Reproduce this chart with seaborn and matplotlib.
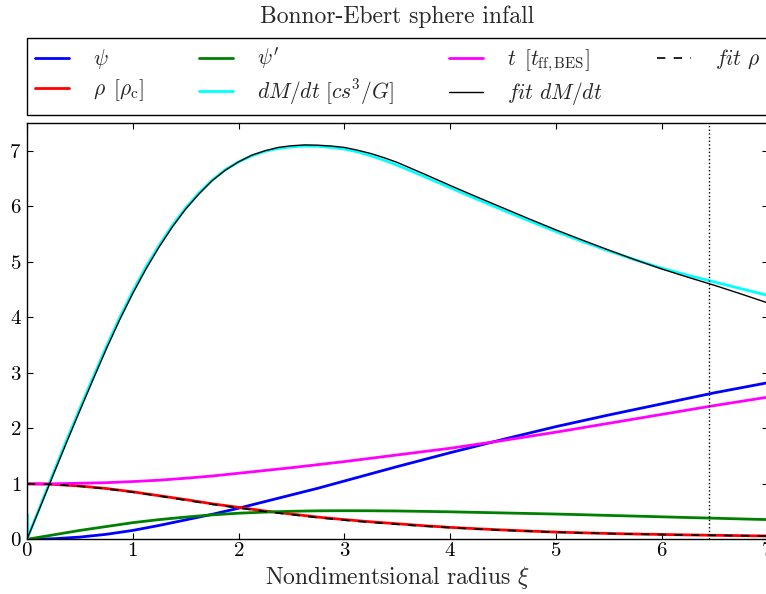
import matplotlib
matplotlib.use("Agg")
import matplotlib.pyplot as plt
import seaborn as sns

# ---- data ----
xi = [0, 0.25, 0.5, 0.75, 1, 1.25, 1.5, 1.75, 2, 2.25, 2.5, 2.75, 3, 3.25, 3.5,
      3.75, 4, 4.25, 4.5, 4.75, 5, 5.25, 5.5, 5.75, 6, 6.25, 6.5, 6.75, 7]
psi = [0, 0.01, 0.04, 0.09, 0.16, 0.25, 0.35, 0.45, 0.56, 0.68, 0.80, 0.92, 1.05, 1.18, 1.31,
       1.435, 1.56, 1.68, 1.80, 1.915, 2.03, 2.135, 2.24, 2.34, 2.44, 2.54, 2.64, 2.73, 2.82]
rho = [1.0, 0.99, 0.96, 0.915, 0.855, 0.785, 0.715, 0.64, 0.575, 0.51, 0.455, 0.40, 0.355, 0.315, 0.28,
       0.245, 0.215, 0.19, 0.168, 0.148, 0.13, 0.117, 0.105, 0.095, 0.087, 0.079, 0.072, 0.066, 0.06]
dpsi = [0, 0.08, 0.16, 0.23, 0.30, 0.355, 0.40, 0.44, 0.47, 0.49, 0.505, 0.513, 0.515, 0.514, 0.51,
        0.503, 0.495, 0.485, 0.475, 0.465, 0.455, 0.443, 0.43, 0.418, 0.405, 0.392, 0.38, 0.367, 0.355]
t_ff = [1.0, 1.0, 1.01, 1.02, 1.04, 1.065, 1.10, 1.14, 1.19, 1.24, 1.29, 1.345, 1.40, 1.46, 1.52,
        1.58, 1.64, 1.71, 1.78, 1.855, 1.93, 2.01, 2.09, 2.17, 2.25, 2.33, 2.41, 2.485, 2.56]
fit_rho = [1.0, 0.99, 0.955, 0.91, 0.85, 0.78, 0.705, 0.63, 0.565, 0.50, 0.445, 0.39, 0.345, 0.305, 0.27,
           0.238, 0.21, 0.185, 0.163, 0.145, 0.128, 0.115, 0.103, 0.093, 0.085, 0.077, 0.071, 0.065, 0.059]

# accretion-rate curves are read on a finer grid where they bend sharply
xi_dm = [0, 0.125, 0.25, 0.375, 0.5, 0.625, 0.75, 0.875, 1.0, 1.125, 1.25, 1.375, 1.5, 1.625,
         1.75, 1.875, 2.0, 2.125, 2.25, 2.375, 2.5, 2.625, 2.75, 2.875, 3.0, 3.125, 3.25, 3.375,
         3.5, 3.75, 4, 4.25, 4.5, 4.75, 5, 5.25, 5.5, 5.75, 6, 6.25, 6.5, 6.75, 7]
dmdt = [0, 0.60, 1.20, 1.79, 2.36, 2.92, 3.47, 3.99, 4.47, 4.91, 5.30, 5.66, 5.97, 6.24,
        6.47, 6.66, 6.80, 6.91, 6.99, 7.04, 7.07, 7.085, 7.08, 7.06, 7.03, 6.98, 6.91, 6.83,
        6.74, 6.54, 6.335, 6.13, 5.93, 5.735, 5.545, 5.365, 5.195, 5.035, 4.885, 4.755, 4.635, 4.515, 4.395]
fit_dmdt = [0, 0.58, 1.17, 1.75, 2.32, 2.88, 3.43, 3.95, 4.43, 4.87, 5.27, 5.63, 5.95, 6.22,
            6.46, 6.65, 6.80, 6.92, 7.00, 7.06, 7.09, 7.105, 7.10, 7.085, 7.06, 7.01, 6.95, 6.875,
            6.79, 6.585, 6.375, 6.17, 5.97, 5.77, 5.575, 5.39, 5.21, 5.035, 4.87, 4.72, 4.575, 4.42, 4.26]
# the computed accretion rate has a spurious first sample at the centre
dmdt_x0 = [0, 0]
dmdt_y0 = [0, 0.45]
xi_crit = 6.45

labels = [r"$\psi$", r"$\rho\enspace[\rho_{\rm c}]$", r"$\psi'$", r"$dM/dt\ [cs^3/G]$",
          r"$t\enspace[t_{\rm ff,BES}]$", r"$fit\ dM/dt$", r"$fit\ \rho$"]
title = "Bonnor-Ebert sphere infall"
xlabel = r"Nondimentsional radius $\xi$"

# ---- style ----
sns.set_style("ticks")
plt.rcParams["font.family"] = ["cmr10", "DejaVu Serif"]
plt.rcParams["mathtext.fontset"] = "cm"
plt.rcParams["axes.formatter.use_mathtext"] = True
plt.rcParams["axes.unicode_minus"] = False

fig = plt.figure(figsize=(7.66, 5.94), dpi=100)
ax = fig.add_axes([27 / 766, 54.7 / 594, 740.5 / 766, 416.3 / 594])

kw = dict(ax=ax, estimator=None, sort=False)
sns.lineplot(x=xi, y=psi, color="blue", lw=2, label=labels[0], **kw)
sns.lineplot(x=xi, y=rho, color="red", lw=2, label=labels[1], **kw)
sns.lineplot(x=xi, y=dpsi, color="green", lw=2, label=labels[2], **kw)
sns.lineplot(x=xi_dm, y=dmdt, color="cyan", lw=2, label=labels[3], **kw)
sns.lineplot(x=dmdt_x0, y=dmdt_y0, color="cyan", lw=2, **kw)
sns.lineplot(x=xi, y=t_ff, color="magenta", lw=2, label=labels[4], **kw)
sns.lineplot(x=xi_dm, y=fit_dmdt, color="black", lw=1, label=labels[5], **kw)
sns.lineplot(x=xi, y=fit_rho, color="black", lw=1.2, dashes=False, label=labels[6], **kw)
ax.lines[-1].set_linestyle((0, (5, 5)))
ax.axvline(xi_crit, color="black", ls=":", lw=1)

ax.set_xlim(0, 7)
ax.set_ylim(0, 7.5)
ax.set_xticks(range(0, 8))
ax.set_yticks(range(0, 8))
ax.tick_params(direction="in", length=4, width=0.8, top=True, right=True,
               labelsize=15, colors="black")
ax.tick_params(axis="x", pad=2)
ax.tick_params(axis="y", pad=4)
for s in ax.spines.values():
    s.set_color("black")
    s.set_linewidth(1.0)

ax.set_xlabel(xlabel, fontsize=17, labelpad=3)
ax.set_title(title, fontsize=17, pad=72)

handles, labs = ax.get_legend_handles_labels()
leg = ax.legend(handles, labs, loc="lower left", bbox_to_anchor=(0, 1.019, 1.0, 0.2),
                mode="expand", ncol=4, borderaxespad=0, fancybox=False, framealpha=1,
                edgecolor="black", fontsize=15.5, handlelength=1.6, handletextpad=1.1,
                labelspacing=0.3, borderpad=0.36)
leg.get_frame().set_linewidth(1.0)

fig.savefig("out.png", dpi=100)
